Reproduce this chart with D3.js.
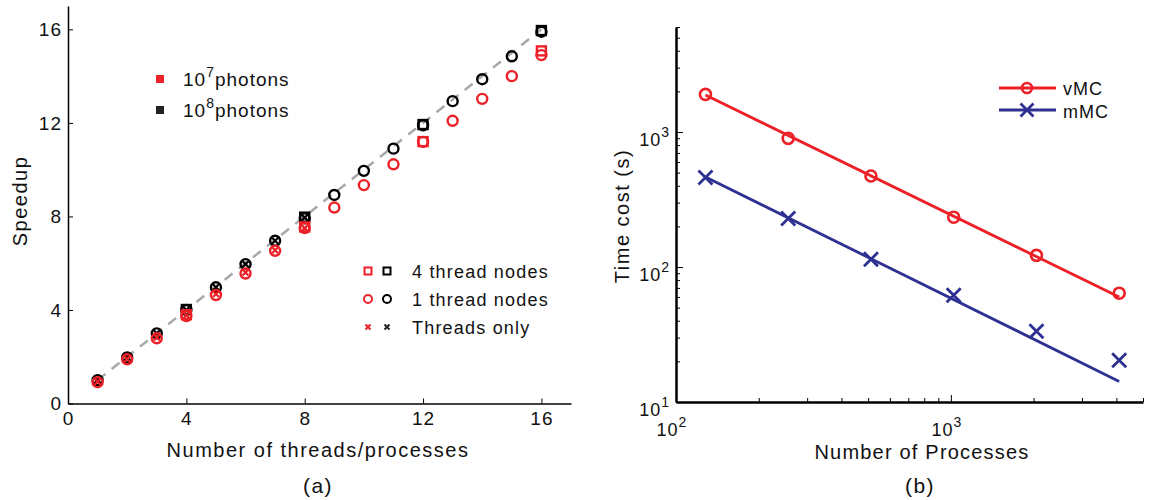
<!DOCTYPE html>
<html>
<head>
<meta charset="utf-8">
<script src="https://cdn.jsdelivr.net/npm/d3@7"></script>
<style>
  body { margin: 0; background: #fff; }
  svg { font-family: "Liberation Sans", Arial, sans-serif; }
</style>
</head>
<body>
<svg id="chart" width="1154" height="500"></svg>
<script>
// ---- data (a): speedup ----
const threads      = [1, 2, 3, 4, 5, 6, 7, 8, 9, 10, 11, 12, 13, 14, 15, 16];
const oneNode7     = [0.91, 1.89, 2.79, 3.74, 4.64, 5.56, 6.53, 7.5, 8.38, 9.34, 10.23, 11.19, 12.09, 13.03, 14.0, 14.9];
const oneNode8     = [1.0, 1.97, 3.0, 4.0, 4.97, 5.96, 6.96, 7.92, 8.92, 9.95, 10.9, 11.9, 12.93, 13.87, 14.85, 15.9];
const fourNodeX    = [4, 8, 12, 16];
const fourNode7    = [3.8, 7.55, 11.2, 15.08];
const fourNode8    = [4.02, 7.97, 11.93, 15.95];
const threadOnlyX  = [1, 2, 3, 4, 5, 6, 7, 8];
const threadOnly7  = [0.93, 1.9, 2.82, 3.76, 4.68, 5.6, 6.55, 7.5];
const threadOnly8  = [1.0, 1.98, 3.0, 4.0, 4.97, 5.96, 6.96, 7.95];
const idealX       = [1, 16];
const speedTicks   = [0, 4, 8, 12, 16];

// ---- data (b): time cost ----
const procs        = [128, 256, 512, 1024, 2048, 4096];
const vMC          = [1900, 898, 472, 234, 122, 64];
const mMC          = [461, 229, 114, 61.8, 33.4, 20.4];
const fitX         = [128, 4096];
const vMCfit       = [1880, 60];
const mMCfit       = [465, 14.2];

const RED = "#ec2027", BLACK = "#000", BLUE = "#2e3192";
const INK = "#111";

const svg = d3.select("#chart");

// ======================= panel (a) =======================
const xA = d3.scaleLinear().domain([0, 17]).range([68, 571]);
const yA = d3.scaleLinear().domain([0, 17]).range([403.5, 6]);

const gA = svg.append("g");

gA.append("g")
    .attr("transform", "translate(0,403.5)")
    .call(d3.axisBottom(xA).tickValues(speedTicks).tickSizeInner(-5).tickSizeOuter(0).tickPadding(8))
    .call(g => g.select(".domain").attr("stroke-width", 1.5))
    .selectAll("text").attr("font-size", 19).attr("letter-spacing", 1).attr("fill", INK);

gA.append("g")
    .attr("transform", "translate(68,0)")
    .call(d3.axisLeft(yA).tickValues(speedTicks).tickSizeInner(-5).tickSizeOuter(0).tickPadding(6))
    .call(g => g.select(".domain").attr("stroke-width", 1.5))
    .selectAll("text").attr("font-size", 19).attr("letter-spacing", 1).attr("fill", INK);

gA.append("text")
    .attr("transform", "translate(27,201) rotate(-90)")
    .attr("text-anchor", "middle").attr("font-size", 20).attr("letter-spacing", 1.5).attr("fill", INK)
    .text("Speedup");
gA.append("text")
    .attr("x", 318).attr("y", 457)
    .attr("text-anchor", "middle").attr("font-size", 20).attr("letter-spacing", 1.5).attr("fill", INK)
    .text("Number of threads/processes");
gA.append("text")
    .attr("x", 318).attr("y", 493)
    .attr("text-anchor", "middle").attr("font-size", 21).attr("letter-spacing", 1.5).attr("fill", INK)
    .text("(a)");

// ideal speedup line
gA.append("line")
    .attr("x1", xA(idealX[0])).attr("y1", yA(idealX[0]))
    .attr("x2", xA(idealX[1])).attr("y2", yA(idealX[1]))
    .attr("stroke", "#a8a8a8").attr("stroke-width", 2.5)
    .attr("stroke-dasharray", "10,8");

function circles(g, xs, ys, color) {
    g.selectAll(null).data(xs).enter().append("circle")
        .attr("cx", (d, i) => xA(d)).attr("cy", (d, i) => yA(ys[i]))
        .attr("r", 5).attr("fill", "none")
        .attr("stroke", color).attr("stroke-width", 2.4);
}
function squares(g, xs, ys, color, s) {
    g.selectAll(null).data(xs).enter().append("rect")
        .attr("x", (d, i) => xA(d) - s / 2).attr("y", (d, i) => yA(ys[i]) - s / 2)
        .attr("width", s).attr("height", s).attr("fill", "none")
        .attr("stroke", color).attr("stroke-width", 2.4);
}
function crosses(g, xs, ys, color, s) {
    g.selectAll(null).data(xs).enter().append("path")
        .attr("d", (d, i) => {
            const cx = xA(d), cy = yA(ys[i]);
            return `M${cx - s},${cy - s}L${cx + s},${cy + s}M${cx - s},${cy + s}L${cx + s},${cy - s}`;
        })
        .attr("stroke", color).attr("stroke-width", 2.2);
}

// black (10^8) first, red (10^7) on top
crosses(gA, threadOnlyX, threadOnly8, BLACK, 3);
squares(gA, fourNodeX, fourNode8, BLACK, 9);
circles(gA, threads, oneNode8, BLACK);
crosses(gA, threadOnlyX, threadOnly7, RED, 3);
squares(gA, fourNodeX, fourNode7, RED, 9);
circles(gA, threads, oneNode7, RED);

// legend: photon counts
const photonLeg = [{c: RED, e: "7", y: 79}, {c: "#222", e: "8", y: 110}];
photonLeg.forEach(p => {
    gA.append("rect").attr("x", 156).attr("y", p.y - 4).attr("width", 8).attr("height", 8).attr("fill", p.c);
    const t = gA.append("text").attr("x", 183).attr("y", p.y + 7).attr("font-size", 19).attr("letter-spacing", 1).attr("fill", INK);
    t.append("tspan").text("10");
    t.append("tspan").attr("dy", -9).attr("font-size", 14).text(p.e);
    t.append("tspan").attr("dy", 9).text("photons");
});

// legend: node types
const lg = gA.append("g");
lg.append("rect").attr("x", 364.5).attr("y", 267.5).attr("width", 7).attr("height", 7).attr("fill", "none").attr("stroke", RED).attr("stroke-width", 2);
lg.append("rect").attr("x", 383.5).attr("y", 267.5).attr("width", 7).attr("height", 7).attr("fill", "none").attr("stroke", BLACK).attr("stroke-width", 2);
lg.append("circle").attr("cx", 368).attr("cy", 299).attr("r", 4).attr("fill", "none").attr("stroke", RED).attr("stroke-width", 2);
lg.append("circle").attr("cx", 387).attr("cy", 299).attr("r", 4).attr("fill", "none").attr("stroke", BLACK).attr("stroke-width", 2);
[[368, RED], [387, "#222"]].forEach(([cx, c]) => {
    lg.append("path").attr("d", `M${cx - 2.5},${324.5}L${cx + 2.5},${329.5}M${cx - 2.5},${329.5}L${cx + 2.5},${324.5}`)
        .attr("stroke", c).attr("stroke-width", 2);
});
const nodeLabels = ["4 thread nodes", "1 thread nodes", "Threads only"];
lg.selectAll("text.lab").data(nodeLabels).enter().append("text")
    .attr("x", 412).attr("y", (d, i) => 278 + i * 28)
    .attr("font-size", 18).attr("letter-spacing", 1.2).attr("fill", INK).text(d => d);

// ======================= panel (b) =======================
const xB = d3.scaleLog().domain([100, 5000]).range([676, 1143]);
const yB = d3.scaleLog().domain([10, 6000]).range([402, 27]);
const gB = svg.append("g");

const xMinor = xB.ticks().filter(v => v <= 5000);
const yMinor = yB.ticks().filter(v => v <= 6000);
const isMajor = v => Math.abs(Math.log10(v) - Math.round(Math.log10(v))) < 1e-9;

gB.append("g")
    .attr("transform", "translate(0,402)")
    .call(d3.axisBottom(xB).tickValues(xMinor).tickFormat("").tickSizeInner(-4).tickSizeOuter(0))
    .call(g => g.select(".domain").attr("stroke-width", 2.5))
    .call(g => g.selectAll(".tick line").filter(d => isMajor(d)).attr("y2", -7));

gB.append("g")
    .attr("transform", "translate(676,0)")
    .call(d3.axisLeft(yB).tickValues(yMinor).tickFormat("").tickSizeInner(-4).tickSizeOuter(0))
    .call(g => g.select(".domain").attr("stroke-width", 2.5))
    .call(g => g.selectAll(".tick line").filter(d => isMajor(d)).attr("x2", 7));

function powLabel(g, x, y, exp, anchor) {
    const t = g.append("text").attr("x", x).attr("y", y).attr("font-size", 18).attr("letter-spacing", 1)
        .attr("fill", INK).attr("text-anchor", anchor);
    t.append("tspan").text("10");
    t.append("tspan").attr("dy", -9).attr("font-size", 14).text(exp);
}
[100, 1000].forEach(v => powLabel(gB, xB(v) - 4, 436, Math.round(Math.log10(v)), "middle"));
[10, 100, 1000].forEach(v => powLabel(gB, 670, yB(v) + 14, Math.round(Math.log10(v)), "end"));

gB.append("text")
    .attr("transform", "translate(629,216) rotate(-90)")
    .attr("text-anchor", "middle").attr("font-size", 20).attr("letter-spacing", 1.5).attr("fill", INK)
    .text("Time cost (s)");
gB.append("text")
    .attr("x", 922).attr("y", 459)
    .attr("text-anchor", "middle").attr("font-size", 20).attr("letter-spacing", 1.2).attr("fill", INK)
    .text("Number of Processes");
gB.append("text")
    .attr("x", 920).attr("y", 493)
    .attr("text-anchor", "middle").attr("font-size", 21).attr("letter-spacing", 1.5).attr("fill", INK)
    .text("(b)");

const lineB = d3.line().x(d => xB(d[0])).y(d => yB(d[1]));
gB.append("path").datum(fitX.map((x, i) => [x, vMCfit[i]]))
    .attr("d", lineB).attr("fill", "none").attr("stroke", RED).attr("stroke-width", 2.8);
gB.append("path").datum(fitX.map((x, i) => [x, mMCfit[i]]))
    .attr("d", lineB).attr("fill", "none").attr("stroke", BLUE).attr("stroke-width", 2.8);

gB.selectAll("circle.v").data(procs).enter().append("circle")
    .attr("cx", d => xB(d)).attr("cy", (d, i) => yB(vMC[i]))
    .attr("r", 5.5).attr("fill", "none").attr("stroke", RED).attr("stroke-width", 2.6);

const xMark = (cx, cy, s) => `M${cx - s},${cy - s}L${cx + s},${cy + s}M${cx - s},${cy + s}L${cx + s},${cy - s}`;
gB.selectAll("path.m").data(procs).enter().append("path")
    .attr("d", (d, i) => xMark(xB(d), yB(mMC[i]), 7))
    .attr("stroke", BLUE).attr("stroke-width", 2.8);

// legend (b)
gB.append("line").attr("x1", 999).attr("x2", 1056).attr("y1", 88).attr("y2", 88).attr("stroke", RED).attr("stroke-width", 2.8);
gB.append("circle").attr("cx", 1027).attr("cy", 88).attr("r", 5).attr("fill", "none").attr("stroke", RED).attr("stroke-width", 2.6);
gB.append("line").attr("x1", 999).attr("x2", 1056).attr("y1", 110).attr("y2", 110).attr("stroke", BLUE).attr("stroke-width", 2.8);
gB.append("path").attr("d", xMark(1027, 110, 6.5)).attr("stroke", BLUE).attr("stroke-width", 2.8);
gB.append("text").attr("x", 1063).attr("y", 95).attr("font-size", 18).attr("letter-spacing", 1).attr("fill", INK).text("vMC");
gB.append("text").attr("x", 1063).attr("y", 118).attr("font-size", 18).attr("letter-spacing", 1).attr("fill", INK).text("mMC");
</script>
</body>
</html>
